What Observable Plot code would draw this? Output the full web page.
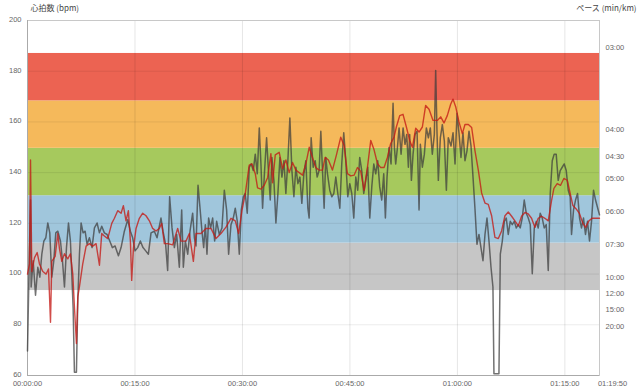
<!DOCTYPE html>
<html><head><meta charset="utf-8">
<script src="https://cdn.jsdelivr.net/npm/d3@7"></script>
<script src="https://cdn.jsdelivr.net/npm/@observablehq/plot@0.6"></script>
<style>html,body{margin:0;padding:0;background:#fff} svg{display:block}</style>
</head><body><div id="chart"></div>
<script>
// Heart rate (bpm) — time in minutes
const hrTime = [0,0.28,0.42,0.60,0.98,1.35,1.67,2.14,2.60,2.93,3.21,3.39,3.86,4.23,4.46,4.79,5.16,5.62,5.99,6.32,6.55,6.83,7.02,7.25,7.71,8.18,8.64,9.11,9.57,10.04,10.36,10.73,11.20,11.76,12.13,12.59,13.06,13.38,13.75,14.08,14.36,14.54,14.78,15.15,15.61,16.08,16.54,17.01,17.47,17.94,18.40,18.73,19.10,19.56,
20.26,20.96,21.43,22.12,22.59,23.15,23.52,24.21,24.91,25.61,26.31,27.00,27.70,28.40,29.00,29.47,29.93,30.39,30.95,31.32,31.79,32.11,32.58,33.04,33.51,33.97,34.21,34.58,35.13,35.60,36.06,36.53,36.99,37.46,37.92,38.39,38.85,39.32,
39.77,40.24,40.70,41.17,41.54,42.00,42.56,43.12,43.72,44.19,44.65,45.12,45.58,46.05,46.51,46.98,47.44,47.91,48.37,48.84,49.30,49.77,50.23,50.69,51.16,51.48,51.95,52.41,52.88,53.34,53.72,54.18,54.65,55.11,55.57,56.04,56.60,57.20,57.67,58.13,58.59,59.06,
59.39,59.76,60.22,60.69,61.06,61.53,61.99,62.45,62.92,63.38,63.85,64.31,64.78,65.24,65.71,66.17,66.64,67.10,67.57,68.03,68.50,68.96,69.43,69.89,70.35,70.82,71.28,71.75,72.21,72.68,73.14,73.47,73.93,74.40,74.86,75.33,75.65,76.12,76.58,77.05,77.51,77.88,78.35,78.81,79.28,79.83];
const hrBpm = [100,104,145,101,106.5,108.5,104,101,100,102,81,105,107,116,110,105,108,106,108,100,87,72.6,91,95,104,111,112,111,112,103.5,116,115,114,120,122,125,124,127,121,125,113,97.5,110,118,122,124,123,121,118,117,118,120,112,112,
111.5,118,113,113,116,105,116,116,118,118,114,116,118.5,122,121,116,125,131.6,143,143.5,139.6,134,133.5,135,138,147.5,136,147,148,141.6,145,140,144,141,140,139,143.5,150,
146,142,141,141,146,145,141,147,154,150.7,139.6,138.7,139,142,140.5,133,142,152.7,149,143.6,142,142,146,151.5,154,158,162.5,163,158,152.7,150,157.5,156,158,166.5,165,160.6,160.6,162,159.6,162.5,167,
169,166,160,155.4,159,159,157.8,148.7,141,132,128,127.5,123,114.5,114,117,123,124.5,122.8,121,119,122.8,124.3,123.7,122,118.4,122,122.8,122,121,129,133.8,135.7,135,137.7,137,133,127,125.7,123.8,120,118.4,121,122,122,122];

// Pace, read as speed (km/h) — time in minutes
const paceTime = [0,0.23,0.42,0.51,0.79,1.12,1.44,1.72,2.00,2.28,2.56,2.83,3.11,3.39,3.67,3.95,4.23,4.60,4.88,5.16,5.44,5.72,5.99,6.18,6.37,6.55,6.83,7.02,7.25,7.48,7.76,8.04,8.32,8.64,9.01,9.34,9.71,10.04,10.36,10.73,11.11,11.48,11.85,12.22,12.69,13.06,13.52,13.99,14.36,14.68,15.01,15.38,15.75,16.12,16.50,16.87,17.24,17.70,18.08,18.35,18.63,18.91,19.28,19.56,19.84,
20.17,20.50,20.82,21.19,21.52,21.75,22.03,22.36,22.68,23.05,23.29,23.52,23.80,24.08,24.35,24.59,24.82,25.05,25.28,25.56,25.84,26.12,26.40,26.77,27.14,27.47,27.79,28.07,28.40,28.72,29.00,29.28,29.56,29.84,30.12,30.39,30.67,30.95,31.23,31.51,31.79,32.07,32.35,32.58,32.81,33.09,33.37,33.60,33.88,34.11,34.39,34.67,34.95,35.23,35.51,35.79,36.06,36.34,36.62,36.90,37.18,37.46,37.74,38.02,38.29,38.57,38.85,39.13,
39.31,39.59,39.87,40.15,40.43,40.70,40.94,41.17,41.40,41.63,41.87,42.19,42.47,42.75,43.03,43.31,43.59,43.86,44.14,44.42,44.70,44.98,45.26,45.54,45.82,46.09,46.37,46.65,46.93,47.21,47.49,47.77,48.05,48.33,48.60,48.88,49.16,49.44,49.72,49.95,50.18,50.46,50.74,51.02,51.21,51.39,51.63,51.86,52.14,52.42,52.69,52.93,53.16,53.34,53.58,53.81,54.09,54.37,54.65,54.83,55.11,55.39,55.67,55.95,56.22,56.50,56.78,56.97,57.15,57.34,57.62,57.90,58.18,58.46,58.73,
59.11,59.39,59.67,59.95,60.22,60.50,60.78,61.06,61.34,61.62,61.90,62.18,62.45,62.73,63.01,63.29,63.57,63.85,64.13,64.41,64.69,64.96,65.10,65.80,65.99,66.27,66.55,66.82,67.10,67.38,67.66,67.94,68.22,68.50,68.77,69.05,69.33,69.61,69.89,70.17,70.45,70.73,71.01,71.28,71.56,71.84,72.12,72.40,72.68,72.96,73.24,73.51,73.79,74.07,74.35,74.63,74.91,75.19,75.47,75.74,75.93,76.21,76.49,76.77,77.05,77.32,77.60,77.88,78.16,78.44,78.72,79.00,79.28,79.83];
const paceSpeed = [1.5,6.8,10.7,5.4,7.0,4.9,6.6,6.0,7.4,8.2,8.4,9.3,8.7,6.0,7.0,8.7,8.8,8.2,7.0,5.4,7.8,9.3,8.2,6.2,4.1,0.2,0.2,4.6,7.4,9.3,8.7,8.8,8.0,8.4,7.8,9.0,9.3,8.7,9.1,8.7,8.6,8.2,7.8,7.9,7.3,7.8,8.8,9.5,8.8,8.4,7.6,7.8,8.2,7.8,7.6,7.4,8.7,8.8,8.4,9.0,9.6,8.8,8.0,6.4,10.9,
9.0,7.8,8.6,6.6,10.1,6.6,8.2,7.4,8.8,9.9,8.4,7.9,11.6,10.2,8.8,7.8,9.2,7.4,9.6,9.0,9.6,8.2,9.4,8.6,9.0,11.3,10.1,7.4,9.2,9.6,10.2,9.4,7.4,10.1,10.9,11.1,9.9,12.7,12.9,12.5,13.5,12.3,15.1,12.9,10.2,12.5,14.5,12.7,10.7,13.3,11.9,9.3,11.1,13.3,12.1,13.1,11.1,13.1,15.7,12.5,10.9,12.7,11.7,12.1,10.5,12.3,13.1,10.2,
9.6,14.5,12.7,13.1,12.1,12.5,14.9,12.5,10.2,13.3,12.3,11.3,10.9,11.1,12.1,11.1,10.2,12.9,14.8,13.1,10.9,11.7,11.1,9.6,12.1,11.3,13.3,12.5,11.1,11.9,12.7,9.6,11.5,12.9,12.3,13.1,11.5,10.7,12.3,9.6,12.1,13.9,12.9,16.6,13.9,12.9,13.9,15.1,13.5,15.1,14.1,14.7,12.7,14.7,11.9,13.5,14.7,14.9,10.1,14.1,12.7,13.5,15.1,14.5,15.1,13.5,14.7,18.6,14.9,11.9,14.5,15.3,14.3,11.3,14.5,
14.0,14.8,12.9,16.0,14.8,13.3,14.8,13.1,13.7,14.9,14.0,12.1,10.2,8.0,8.6,7.8,7.0,8.6,9.6,8.2,6.6,5.4,0.1,0.1,7.4,8.2,9.4,9.6,8.6,9.4,9.2,9.4,9.0,9.2,9.0,9.6,10.7,9.9,9.6,9.2,6.2,9.0,9.4,9.0,9.9,9.6,9.0,9.2,6.4,11.1,13.1,13.5,13.5,11.9,12.5,12.7,12.9,12.5,11.3,10.9,8.6,10.1,10.7,11.1,9.6,9.0,9.6,8.6,9.4,8.2,9.4,11.3,10.7,9.8];

// Heart-rate zones (bpm edges) and colours
const zoneEdges = [93.5, 112.2, 130.9, 149.6, 168.3, 187];
const zoneColors = ["#c6c6c6", "#a0c6dc", "#a6c95d", "#f5b95b", "#ec6352"];

// Axes
const bpmTicks = [60, 80, 100, 120, 140, 160, 180, 200];
const timeTicks = [0, 15, 30, 45, 60, 75];
const endTime = 79 + 50/60;
const paceLabels = ["03:00","04:00","04:30","05:00","06:00","07:30","10:00","12:00","15:00","20:00"];
const speedMax = 21.65; // km/h at top of the pace axis (0 km/h at bottom)

const bpmMin = 60, bpmMax = 200;
const speedToY = s => bpmMin + s * (bpmMax - bpmMin) / speedMax;
const paceToSpeed = p => { const [m, s] = p.split(":").map(Number); return 60 / (m + s/60); };
const paceTickY = paceLabels.map(p => speedToY(paceToSpeed(p)));
const paceLabelByY = new Map(paceTickY.map((y, i) => [y, paceLabels[i]]));

const fmtTime = m => { const s = Math.round(m*60); const h = Math.floor(s/3600), mm = Math.floor((s%3600)/60), ss = s%60; return [h,mm,ss].map(v => String(v).padStart(2,"0")).join(":"); };

const hr = hrTime.map((t, i) => ({t, v: hrBpm[i]}));
const pace = paceTime.map((t, i) => ({t, v: paceSpeed[i]}));
const zones = zoneColors.map((c, i) => ({lo: zoneEdges[i], hi: zoneEdges[i+1], color: c}));

const font = "'Liberation Sans', Arial, sans-serif";

const chart = Plot.plot({
  width: 640, height: 389,
  marginLeft: 27, marginRight: 41, marginTop: 20, marginBottom: 14,
  style: {fontFamily: font, background: "#fff"},
  x: {domain: [0, endTime], axis: null},
  y: {domain: [bpmMin, bpmMax], axis: null},
  color: {type: "identity"},
  marks: [
    Plot.rect(zones, {x1: 0, x2: endTime, y1: "lo", y2: "hi", fill: "color"}),
    Plot.ruleY(bpmTicks.slice(1, -1), {stroke: "#000", strokeOpacity: 0.08}),
    Plot.ruleX(timeTicks.slice(1), {stroke: "#000", strokeOpacity: 0.1}),
    Plot.frame({stroke: "#c8c8c8"}),
    Plot.ruleX([0], {stroke: "#aaa"}),
    Plot.ruleY([bpmMin], {stroke: "#aaa"}),
    Plot.line(pace, {x: "t", y: d => speedToY(d.v), stroke: "#3c3c3c", strokeOpacity: 0.72, strokeWidth: 1.5}),
    Plot.line(hr, {x: "t", y: "v", stroke: "#c41a16", strokeOpacity: 0.78, strokeWidth: 1.4}),
    Plot.axisY(bpmTicks, {anchor: "left", tickSize: 0, tickPadding: 6, fontSize: 7.5, fill: "#666", label: null, dy: -1}),
    Plot.axisY(paceTickY, {anchor: "right", tickSize: 0, tickPadding: 6, fontSize: 7.5, fill: "#666", label: null, tickFormat: d => paceLabelByY.get(d)}),
    Plot.axisX(timeTicks, {anchor: "bottom", tickSize: 0, tickPadding: 5, fontSize: 7.5, fill: "#666", label: null, tickFormat: fmtTime}),
    Plot.axisX([endTime], {anchor: "bottom", tickSize: 0, tickPadding: 5, fontSize: 7.5, fill: "#666", label: null, tickFormat: fmtTime, dx: 13}),
    Plot.text(["心拍数 (bpm)"], {frameAnchor: "top-left", dx: 3, dy: -12, lineAnchor: "middle", fontSize: 8, fill: "#444", fontFamily: "'Noto Sans CJK JP', sans-serif"}),
    Plot.text(["ペース (min/km)"], {frameAnchor: "top-right", dx: 37, dy: -12, lineAnchor: "middle", fontSize: 8, fill: "#444", fontFamily: "'Noto Sans CJK JP', sans-serif"})
  ]
});
document.getElementById("chart").appendChild(chart);
</script>
</body></html>
